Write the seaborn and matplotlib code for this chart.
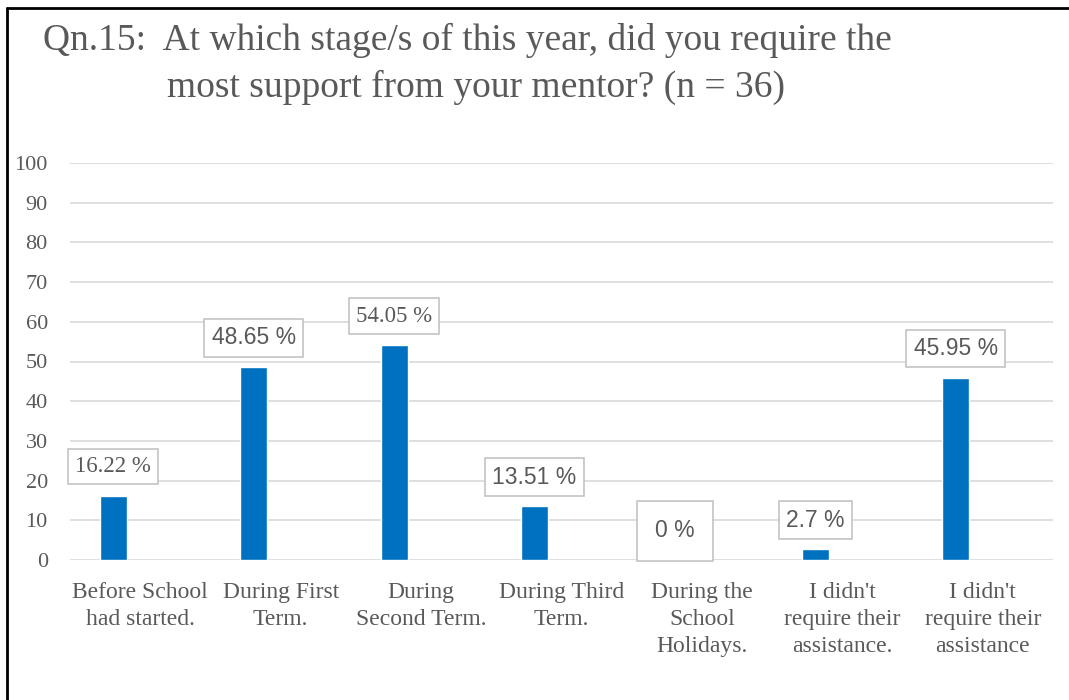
import matplotlib
matplotlib.use("Agg")
import matplotlib.pyplot as plt
from matplotlib.lines import Line2D
import seaborn as sns
import pandas as pd
import numpy as np

# chart data
stages = [
    "Before School\nhad started.",
    "During First\nTerm.",
    "During\nSecond Term.",
    "During Third\nTerm.",
    "During the\nSchool\nHolidays.",
    "I didn't\nrequire their\nassistance.",
    "I didn't\nrequire their\nassistance",
]
percent = [16.22, 48.65, 54.05, 13.51, 0, 2.7, 45.95]
value_labels = ["16.22 %", "48.65 %", "54.05 %", "13.51 %", "0 %", "2.7 %", "45.95 %"]
label_fonts = ["Liberation Serif", "Liberation Sans", "Liberation Serif", "Liberation Sans",
               "Liberation Sans", "Liberation Sans", "Liberation Sans"]
# the source chart has three series; only the first one holds values
series = ["Series1", "Series2", "Series3"]
y_ticks = list(range(0, 101, 10))

GREY = "#595959"
BLUE = "#0070C0"

sns.set_style("white")
plt.rcParams["font.family"] = ["Liberation Serif", "DejaVu Serif"]

df = pd.concat([
    pd.DataFrame({"stage": stages, "percent": percent, "series": series[0]}),
    pd.DataFrame({"stage": stages, "percent": np.nan, "series": series[1]}),
    pd.DataFrame({"stage": stages, "percent": np.nan, "series": series[2]}),
], ignore_index=True)

fig = plt.figure(figsize=(10.69, 7), dpi=100)
ax = fig.add_axes([70 / 1069, 140 / 700, 983 / 1069, 397 / 700])

sns.barplot(data=df, x="stage", y="percent", hue="series", hue_order=series,
            palette={s: BLUE for s in series}, width=0.577, legend=False,
            saturation=1, errorbar=None, ax=ax)

ax.set_ylim(0, 100)
ax.set_xlim(-0.5, len(stages) - 0.5)
ax.set_yticks(y_ticks)
ax.grid(axis="y", color="#d9d9d9", lw=1.2)
ax.set_axisbelow(True)
for s in ax.spines.values():
    s.set_visible(False)
ax.set_xlabel("")
ax.set_ylabel("")
ax.tick_params(axis="y", length=0, pad=16, labelsize=16, labelcolor=GREY)
ax.tick_params(axis="x", length=0, pad=16, labelsize=17, labelcolor=GREY)
for t in ax.get_xticklabels():
    t.set_linespacing(1.36)

# boxed value labels
for bar, text, fam in zip(ax.containers[0], value_labels, label_fonts):
    x = bar.get_x() + bar.get_width() / 2
    pad = 0.8 if text == "0 %" else 0.32
    ax.annotate(text, (x, bar.get_height()), xytext=(0, 21), textcoords="offset points",
                ha="center", va="center", fontsize=16.5, family=fam, color=GREY,
                bbox=dict(boxstyle=f"square,pad={pad}", fc="white", ec="#bfbfbf", lw=1.1))

# title with hanging indent
fig.text(43 / 1069, 1 - 50 / 700, "Qn.15:  At which stage/s of this year, did you require the",
         fontsize=27, color=GREY, va="baseline")
fig.text(167 / 1069, 1 - 97 / 700, "most support from your mentor? (n = 36)",
         fontsize=27, color=GREY, va="baseline")

# outer frame (top and left edges visible)
fig.add_artist(Line2D([7 / 1069, 1], [1 - 8 / 700, 1 - 8 / 700], color="black", lw=2,
                      transform=fig.transFigure))
fig.add_artist(Line2D([7 / 1069, 7 / 1069], [0, 1 - 8 / 700], color="black", lw=2,
                      transform=fig.transFigure))

fig.savefig("out.png", dpi=100, facecolor="white")
